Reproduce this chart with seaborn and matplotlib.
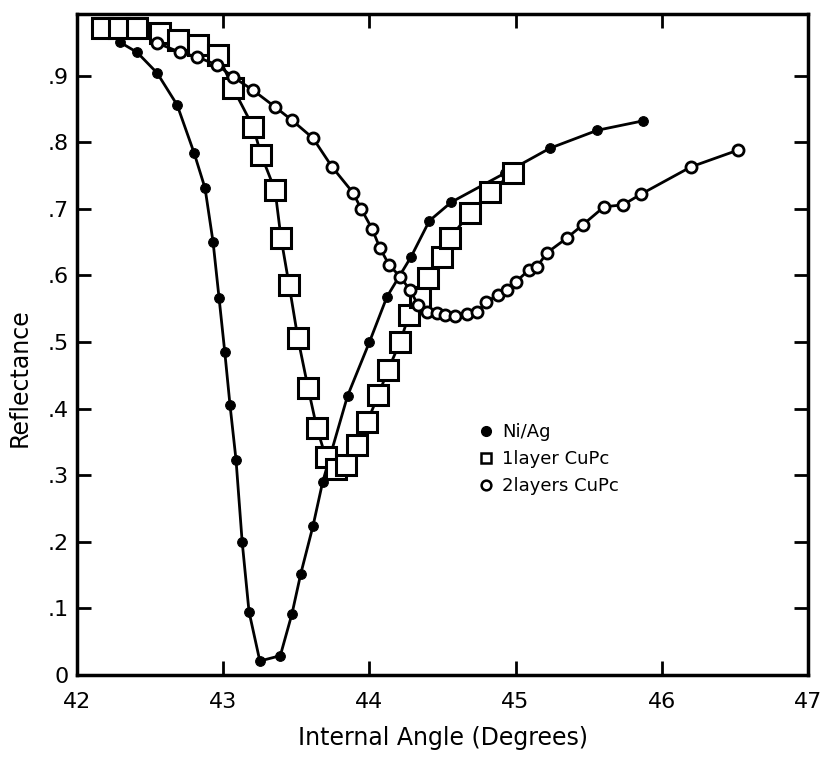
import numpy as np
import pandas as pd
import matplotlib
matplotlib.use("Agg")
import matplotlib.pyplot as plt
import seaborn as sns

# ---- data ----
niag_angle = [42.185, 42.294, 42.41, 42.547, 42.684, 42.80, 42.875, 42.93, 42.971, 43.01,
              43.046, 43.087, 43.129, 43.176, 43.25, 43.39, 43.47, 43.53, 43.614, 43.68,
              43.85, 44.0, 44.12, 44.285, 44.41, 44.56, 44.93, 45.235, 45.56, 45.87]
niag_refl = [0.974, 0.950, 0.935, 0.904, 0.856, 0.784, 0.731, 0.650, 0.566, 0.485,
             0.405, 0.323, 0.200, 0.095, 0.021, 0.029, 0.092, 0.152, 0.224, 0.290,
             0.419, 0.500, 0.568, 0.628, 0.682, 0.710, 0.754, 0.791, 0.818, 0.832]

one_angle = [42.171, 42.287, 42.41, 42.568, 42.69, 42.83, 42.964, 43.067, 43.204, 43.259,
             43.354, 43.395, 43.45, 43.51, 43.58, 43.64, 43.70, 43.77, 43.84, 43.915,
             43.985, 44.06, 44.127, 44.21, 44.27, 44.346, 44.40, 44.497, 44.55, 44.69,
             44.825, 44.98]
one_refl = [0.971, 0.971, 0.971, 0.964, 0.953, 0.946, 0.931, 0.881, 0.823, 0.781,
            0.728, 0.656, 0.586, 0.506, 0.431, 0.371, 0.328, 0.310, 0.315, 0.345,
            0.380, 0.420, 0.458, 0.500, 0.540, 0.568, 0.596, 0.628, 0.656, 0.694,
            0.725, 0.754]

two_angle = [42.547, 42.705, 42.82, 42.958, 43.067, 43.204, 43.354, 43.47, 43.614, 43.744,
             43.888, 43.943, 44.018, 44.072, 44.134, 44.21, 44.278, 44.332, 44.394, 44.462,
             44.517, 44.585, 44.668, 44.736, 44.80, 44.88, 44.94, 45.0, 45.09, 45.146,
             45.215, 45.35, 45.46, 45.605, 45.735, 45.858, 46.2, 46.52]
two_refl = [0.949, 0.935, 0.928, 0.916, 0.898, 0.878, 0.853, 0.833, 0.806, 0.763,
            0.724, 0.700, 0.670, 0.641, 0.616, 0.598, 0.578, 0.556, 0.545, 0.544,
            0.541, 0.539, 0.542, 0.545, 0.560, 0.571, 0.578, 0.590, 0.608, 0.613,
            0.634, 0.656, 0.676, 0.703, 0.706, 0.722, 0.763, 0.788]

series_names = ["Ni/Ag", "1layer CuPc", "2layers CuPc"]
x_ticks = [42, 43, 44, 45, 46, 47]
x_tick_labels = ["42", "43", "44", "45", "46", "47"]
y_ticks = [0, 0.1, 0.2, 0.3, 0.4, 0.5, 0.6, 0.7, 0.8, 0.9]
y_tick_labels = ["0", ".1", ".2", ".3", ".4", ".5", ".6", ".7", ".8", ".9"]

sns.set_theme(style="ticks")
plt.rcParams['font.family'] = ['DejaVu Sans']
plt.rcParams['text.color'] = 'black'
plt.rcParams['axes.labelcolor'] = 'black'

fig = plt.figure(figsize=(8.21, 7.61), dpi=100)
ax = fig.add_axes([0.094, 0.113, 0.890, 0.869])

df1 = pd.DataFrame({"angle": niag_angle, "refl": niag_refl})
df2 = pd.DataFrame({"angle": one_angle, "refl": one_refl})
df3 = pd.DataFrame({"angle": two_angle, "refl": two_refl})

sns.lineplot(data=df1, x="angle", y="refl", sort=False, color="black", lw=2,
             marker="o", markersize=7, markerfacecolor="black", markeredgecolor="black",
             ax=ax, legend=False)
sns.lineplot(data=df2, x="angle", y="refl", sort=False, color="black", lw=2,
             marker="s", markersize=14, markerfacecolor="white", markeredgecolor="black",
             markeredgewidth=2.2, ax=ax, legend=False)
sns.lineplot(data=df3, x="angle", y="refl", sort=False, color="black", lw=2,
             marker="o", markersize=8, markerfacecolor="white", markeredgecolor="black",
             markeredgewidth=2, ax=ax, legend=False)

ax.set_xlim(42, 47)
ax.set_ylim(0, 0.993)
ax.set_xticks(x_ticks)
ax.set_xticklabels(x_tick_labels, fontsize=16)
ax.set_yticks(y_ticks)
ax.set_yticklabels(y_tick_labels, fontsize=16)
ax.tick_params(direction="in", length=10, width=2, top=True, right=True,
               labelcolor="black", color="black")
ax.tick_params(axis="x", pad=12)
ax.tick_params(axis="y", pad=6)
for s in ax.spines.values():
    s.set_linewidth(2.5)
    s.set_color("black")

ax.set_xlabel("Internal Angle (Degrees)", fontsize=17, labelpad=10)
ax.set_ylabel("Reflectance", fontsize=17)
ax.yaxis.set_label_coords(-0.062, 0.45)

handles = [
    plt.Line2D([], [], ls="", marker="o", markersize=7, color="black"),
    plt.Line2D([], [], ls="", marker="s", markersize=7, markerfacecolor="white",
               markeredgecolor="black", markeredgewidth=1.8),
    plt.Line2D([], [], ls="", marker="o", markersize=7, markerfacecolor="white",
               markeredgecolor="black", markeredgewidth=1.8),
]
ax.legend(handles, series_names, loc="upper left", bbox_to_anchor=(0.525, 0.405),
          frameon=False, fontsize=13, handletextpad=0.4, labelspacing=0.5,
          handlelength=1.0)

fig.savefig("out.png", dpi=100, facecolor="white")
